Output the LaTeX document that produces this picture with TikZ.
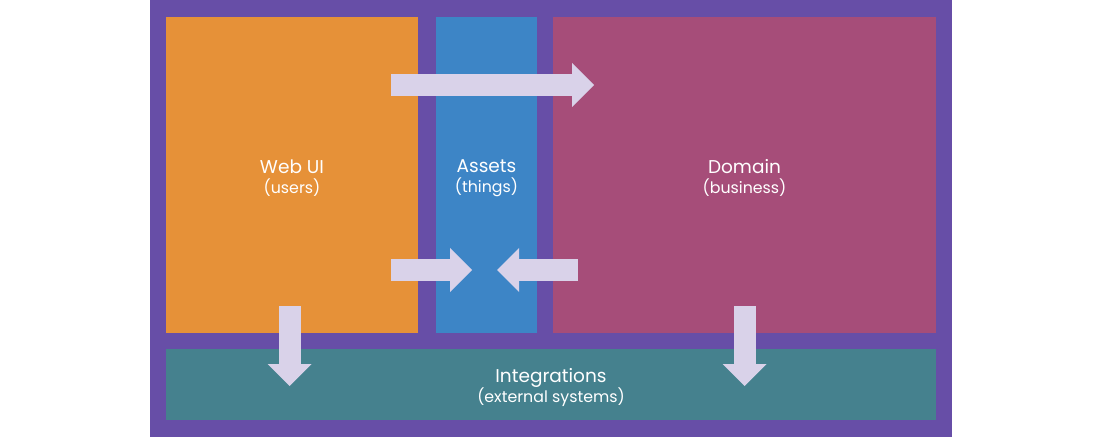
\documentclass[tikz,border=0pt]{standalone}
\usepackage{fontspec}
\setmainfont{Poppins}
\usetikzlibrary{arrows.meta}

\definecolor{framecol}{HTML}{674EA7}
\definecolor{webcol}{HTML}{E69138}
\definecolor{assetcol}{HTML}{3D85C6}
\definecolor{domaincol}{HTML}{A64D79}
\definecolor{integcol}{HTML}{45818E}
\definecolor{arrowcol}{HTML}{D9D2E9}

\newcommand{\sublabel}[1]{{\fontsize{15.8}{20}\selectfont #1}}

\tikzset{
  panel/.style={inner sep=0pt, text=white, align=center,
    font=\fontsize{18.5}{20}\selectfont},
  blockarrow/.style={draw=arrowcol, line width=22pt,
    -{Triangle[length=22pt, width=44pt, line width=0pt, color=arrowcol]}}
}

\begin{document}
\begin{tikzpicture}[x=1pt, y=-1pt]
  \useasboundingbox (0,0) rectangle (1102,438);
  % purple frame behind everything
  \fill[framecol] (150,0) rectangle (952,437);
  % the four areas
  \node[panel, fill=webcol, minimum width=252pt, minimum height=316pt] (webui) at (292,175) {};
  \node[panel, fill=assetcol, minimum width=101pt, minimum height=316pt] (assets) at (486.5,175) {};
  \node[panel, fill=domaincol, minimum width=383pt, minimum height=316pt] (domain) at (744.5,175) {};
  \node[panel, fill=integcol, minimum width=770pt, minimum height=71pt] (integ) at (551,384.5) {};
  % labels, a little below the centres
  \node[panel] (webtext) at ([yshift=-3pt]webui.center) {Web UI\\\sublabel{(users)}};
  \node[panel] (assettext) at ([yshift=-3pt]assets.center) {Assets\\\sublabel{(things)}};
  \node[panel] (domaintext) at ([yshift=-3pt]domain.center) {Domain\\\sublabel{(business)}};
  \node[panel] (integtext) at ([yshift=-3pt]integ.center) {Integrations\\\sublabel{(external systems)}};
  % end points of the block arrows
  \coordinate (topfrom) at (391,85);
  \coordinate (topto) at (594,85);
  \coordinate (webfrom) at (391,270);
  \coordinate (webto) at (472,270);
  \coordinate (domfrom) at (578,270);
  \coordinate (domto) at (497,270);
  \coordinate (webdown) at (289.5,306);
  \coordinate (webint) at (289.5,386);
  \coordinate (domdown) at (744.5,306);
  \coordinate (domint) at (744.5,386);
  \draw[blockarrow] (topfrom) -- (topto);
  \draw[blockarrow] (webfrom) -- (webto);
  \draw[blockarrow] (domfrom) -- (domto);
  \draw[blockarrow] (webdown) -- (webint);
  \draw[blockarrow] (domdown) -- (domint);
\end{tikzpicture}
\end{document}
